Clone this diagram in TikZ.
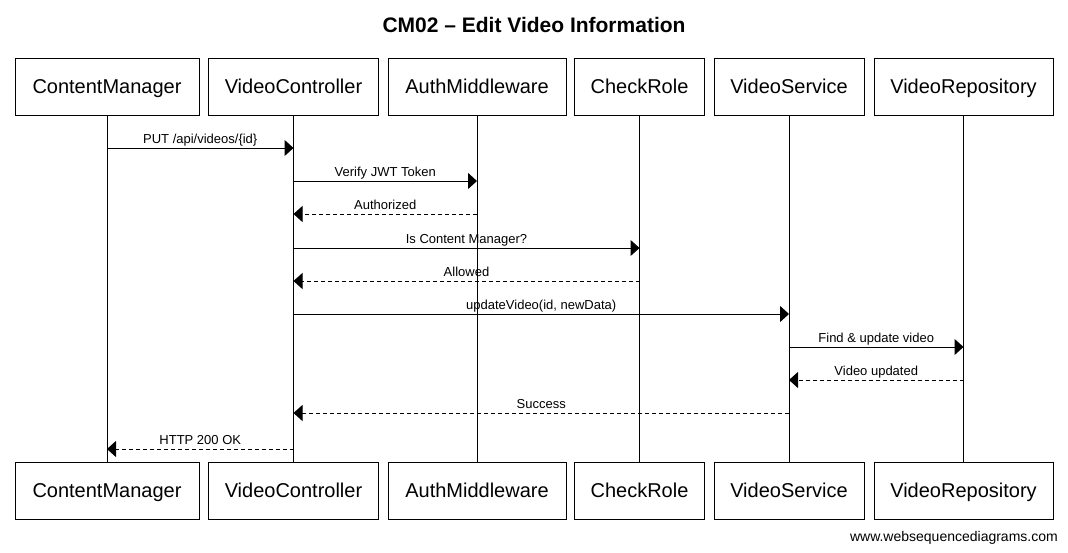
\documentclass[tikz,border=0pt]{standalone}
\usepackage{fontspec}
\setmainfont{Liberation Sans}
\usetikzlibrary{arrows.meta}
\begin{document}
\begin{tikzpicture}[x=1pt,y=-1pt,
  partbox/.style={draw=black, line width=1pt, minimum height=57pt, inner sep=0pt,
    text height=14.6pt, text depth=0pt,
    font=\fontsize{20}{24}\selectfont},
  lifeline/.style={draw=black, line width=1pt},
  msg/.style={draw=black, line width=1pt, -{Triangle[length=9pt,width=16pt]}},
  reply/.style={msg, dash pattern=on 4pt off 3pt},
  lbl/.style={anchor=base, yshift=5pt, inner sep=0pt, font=\fontsize{13}{15}\selectfont}
]
\useasboundingbox (0,0) rectangle (1068,552);
\fill[white] (0,0) rectangle (1068,552);

\node[font=\bfseries\fontsize{21}{25}\selectfont] (title) at (534,25) {CM02 – Edit Video Information};

% top participants
\node[partbox, minimum width=184pt] (cm) at (107,86.5) {ContentManager};
\node[partbox, minimum width=170pt] (vc) at (293.5,86.5) {VideoController};
\node[partbox, minimum width=178pt] (am) at (477,86.5) {AuthMiddleware};
\node[partbox, minimum width=130pt] (cr) at (639.5,86.5) {CheckRole};
\node[partbox, minimum width=150pt] (vs) at (789,86.5) {VideoService};
\node[partbox, minimum width=179pt] (vr) at (963.5,86.5) {VideoRepository};

% bottom participants
\node[partbox, minimum width=184pt] (cmb) at (107,490.5) {ContentManager};
\node[partbox, minimum width=170pt] (vcb) at (293.5,490.5) {VideoController};
\node[partbox, minimum width=178pt] (amb) at (477,490.5) {AuthMiddleware};
\node[partbox, minimum width=130pt] (crb) at (639.5,490.5) {CheckRole};
\node[partbox, minimum width=150pt] (vsb) at (789,490.5) {VideoService};
\node[partbox, minimum width=179pt] (vrb) at (963.5,490.5) {VideoRepository};

% lifelines
\foreach \a/\b in {cm/cmb, vc/vcb, am/amb, cr/crb, vs/vsb, vr/vrb}
  \draw[lifeline] (\a.south) -- (\b.north);

% messages
\draw[msg] (cm.south |- 0,148) -- (vc.south |- 0,148) node[lbl, midway] {PUT /api/videos/\{id\}};
\draw[msg] (vc.south |- 0,181) -- (am.south |- 0,181) node[lbl, midway] {Verify JWT Token};
\draw[reply] (am.south |- 0,214) -- (vc.south |- 0,214) node[lbl, midway] {Authorized};
\draw[msg] (vc.south |- 0,248) -- (cr.south |- 0,248) node[lbl, midway] {Is Content Manager?};
\draw[reply] (cr.south |- 0,281) -- (vc.south |- 0,281) node[lbl, midway] {Allowed};
\draw[msg] (vc.south |- 0,314) -- (vs.south |- 0,314) node[lbl, midway] {updateVideo(id, newData)};
\draw[msg] (vs.south |- 0,347) -- (vr.south |- 0,347) node[lbl, midway] {Find \& update video};
\draw[reply] (vr.south |- 0,380) -- (vs.south |- 0,380) node[lbl, midway] {Video updated};
\draw[reply] (vs.south |- 0,413) -- (vc.south |- 0,413) node[lbl, midway] {Success};
\draw[reply] (vc.south |- 0,449) -- (cm.south |- 0,449) node[lbl, midway] {HTTP 200 OK};

\node[anchor=east, inner sep=0pt, font=\fontsize{14}{16}\selectfont] (footer) at (1058,538) {www.websequencediagrams.com};
\end{tikzpicture}
\end{document}
